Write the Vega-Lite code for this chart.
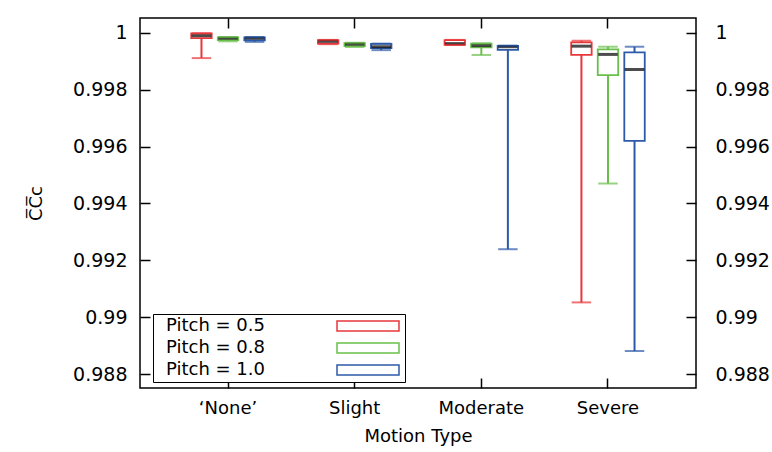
{
  "$schema": "https://vega.github.io/schema/vega-lite/v6.json",
  "width": 556,
  "height": 370,
  "autosize": {"type": "none"},
  "padding": {"left": 140, "top": 18, "right": 76, "bottom": 64},
  "background": "white",
  "config": {
    "font": "DejaVu Sans",
    "view": {"stroke": "black", "strokeWidth": 1.5},
    "axis": {
      "domain": false,
      "grid": false,
      "tickSize": -10,
      "tickColor": "black",
      "tickWidth": 1.5,
      "labelFontSize": 18,
      "labelColor": "black",
      "titleFontSize": 18,
      "titleFontWeight": "normal",
      "titleColor": "black"
    }
  },
  "data": {
    "values": [
      {"motion": "‘None’", "pitch": "Pitch = 0.5", "lo": 0.99911, "q1": 0.99981, "med": 0.9999, "q3": 0.99998, "hi": 0.99998},
      {"motion": "‘None’", "pitch": "Pitch = 0.8", "lo": 0.9997, "q1": 0.99974, "med": 0.99981, "q3": 0.99984, "hi": 0.99985},
      {"motion": "‘None’", "pitch": "Pitch = 1.0", "lo": 0.99968, "q1": 0.99973, "med": 0.99981, "q3": 0.99984, "hi": 0.99985},
      {"motion": "Slight", "pitch": "Pitch = 0.5", "lo": 0.9996, "q1": 0.99962, "med": 0.9997, "q3": 0.99974, "hi": 0.99975},
      {"motion": "Slight", "pitch": "Pitch = 0.8", "lo": 0.9995, "q1": 0.99953, "med": 0.9996, "q3": 0.99964, "hi": 0.99965},
      {"motion": "Slight", "pitch": "Pitch = 1.0", "lo": 0.99939, "q1": 0.99946, "med": 0.99951, "q3": 0.99961, "hi": 0.99962},
      {"motion": "Moderate", "pitch": "Pitch = 0.5", "lo": 0.99957, "q1": 0.99958, "med": 0.99962, "q3": 0.99974, "hi": 0.99975},
      {"motion": "Moderate", "pitch": "Pitch = 0.8", "lo": 0.99922, "q1": 0.99949, "med": 0.99955, "q3": 0.99962, "hi": 0.99963},
      {"motion": "Moderate", "pitch": "Pitch = 1.0", "lo": 0.99239, "q1": 0.9994, "med": 0.99951, "q3": 0.99954, "hi": 0.99955},
      {"motion": "Severe", "pitch": "Pitch = 0.5", "lo": 0.99052, "q1": 0.99922, "med": 0.99953, "q3": 0.99966, "hi": 0.99972},
      {"motion": "Severe", "pitch": "Pitch = 0.8", "lo": 0.9947, "q1": 0.99851, "med": 0.99924, "q3": 0.99942, "hi": 0.99951},
      {"motion": "Severe", "pitch": "Pitch = 1.0", "lo": 0.98881, "q1": 0.9962, "med": 0.99871, "q3": 0.99931, "hi": 0.99951}
    ]
  },
  "resolve": {"axis": {"x": "independent", "y": "independent"}},
  "layer": [
    {
      "mark": {"type": "rule", "strokeWidth": 2},
      "encoding": {
        "x": {"field": "motion", "type": "nominal", "sort": ["‘None’", "Slight", "Moderate", "Severe"],
              "scale": {"paddingInner": 0, "paddingOuter": 0.195},
              "axis": {"orient": "bottom", "title": "Motion Type", "labelAngle": 0, "labelPadding": 21, "titlePadding": 10}},
        "xOffset": {"field": "pitch", "type": "nominal", "scale": {"paddingInner": 0.23, "paddingOuter": 1.118}},
        "y": {"field": "lo", "type": "quantitative",
              "scale": {"domain": [0.98751, 1.00052], "nice": false, "zero": false},
              "axis": {"orient": "left", "title": "C̅C̅c", "values": [0.988, 0.99, 0.992, 0.994, 0.996, 0.998, 1], "format": "~g", "labelFontSize": 19, "labelPadding": 23, "titlePadding": 27}},
        "y2": {"field": "hi"},
        "color": {"field": "pitch", "type": "nominal", "scale": {"range": ["#e8373a", "#6abf4b", "#2c5aa8"]}, "legend": null}
      }
    },
    {
      "mark": {"type": "bar", "fill": "white", "strokeWidth": 1.8},
      "encoding": {
        "x": {"field": "motion", "type": "nominal", "sort": ["‘None’", "Slight", "Moderate", "Severe"],
              "axis": {"orient": "top", "title": null, "labels": false}},
        "xOffset": {"field": "pitch", "type": "nominal"},
        "y": {"field": "q1", "type": "quantitative",
              "axis": {"orient": "right", "title": null, "values": [0.988, 0.99, 0.992, 0.994, 0.996, 0.998, 1], "format": "~g", "labelFontSize": 19, "labelPadding": 29}},
        "y2": {"field": "q3"},
        "stroke": {"field": "pitch", "type": "nominal", "scale": {"range": ["#e8373a", "#6abf4b", "#2c5aa8"]},
                   "legend": {"orient": "none", "legendX": 13, "legendY": 296, "title": null,
                              "strokeColor": "black", "fillColor": "white", "padding": 3,
                              "labelFontSize": 18, "labelColor": "black",
                              "symbolType": "M-6.2,-1H6.2V1H-6.2Z", "symbolSize": 100,
                              "symbolFillColor": "white", "symbolStrokeWidth": 1.5,
                              "symbolOffset": 203, "labelOffset": -211, "rowPadding": 4}}
      }
    },
    {
      "mark": {"type": "tick", "size": 19.5, "thickness": 3, "color": "black"},
      "encoding": {
        "x": {"field": "motion", "type": "nominal", "sort": ["‘None’", "Slight", "Moderate", "Severe"], "axis": null},
        "xOffset": {"field": "pitch", "type": "nominal"},
        "y": {"field": "med", "type": "quantitative", "axis": null}
      }
    },
    {
      "mark": {"type": "tick", "size": 19.5, "thickness": 2},
      "encoding": {
        "x": {"field": "motion", "type": "nominal", "sort": ["‘None’", "Slight", "Moderate", "Severe"], "axis": null},
        "xOffset": {"field": "pitch", "type": "nominal"},
        "y": {"field": "lo", "type": "quantitative", "axis": null},
        "color": {"field": "pitch", "type": "nominal", "legend": null}
      }
    },
    {
      "mark": {"type": "tick", "size": 19.5, "thickness": 2},
      "encoding": {
        "x": {"field": "motion", "type": "nominal", "sort": ["‘None’", "Slight", "Moderate", "Severe"], "axis": null},
        "xOffset": {"field": "pitch", "type": "nominal"},
        "y": {"field": "hi", "type": "quantitative", "axis": null},
        "color": {"field": "pitch", "type": "nominal", "legend": null}
      }
    }
  ]
}
